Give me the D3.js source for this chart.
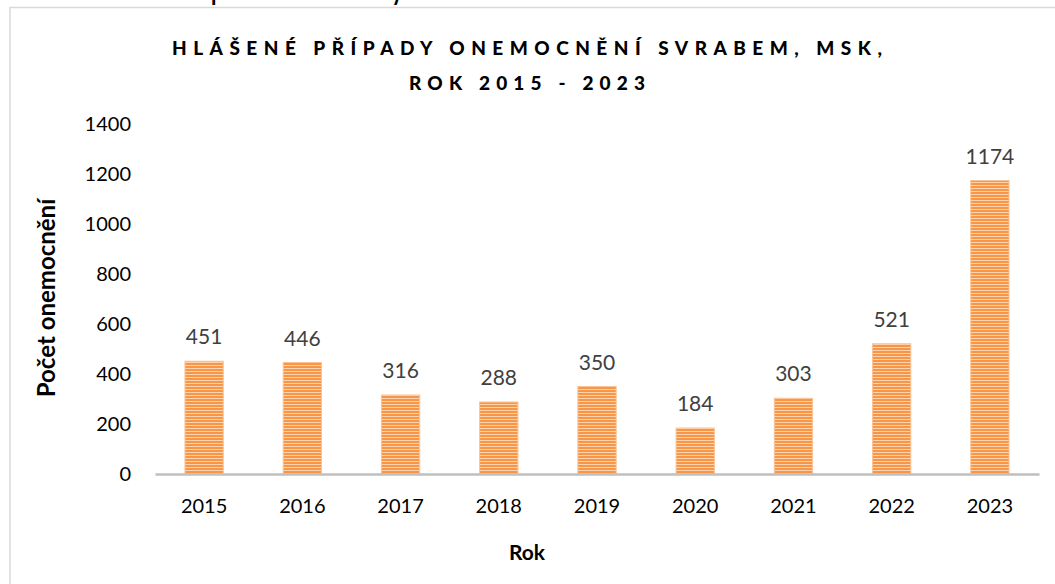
<!DOCTYPE html>
<html>
<head>
<meta charset="utf-8">
<script src="https://cdn.jsdelivr.net/npm/d3@7"></script>
<style>
  body { margin: 0; background: #fff; }
  svg { display: block; font-family: Lato, "Open Sans", sans-serif; }
</style>
</head>
<body>
<div id="chart"></div>
<script>
// Data
const years = ["2015", "2016", "2017", "2018", "2019", "2020", "2021", "2022", "2023"];
const cases = [451, 446, 316, 288, 350, 184, 303, 521, 1174];
const yTicks = [0, 200, 400, 600, 800, 1000, 1200, 1400];
const titleLines = ["HLÁŠENÉ PŘÍPADY ONEMOCNĚNÍ SVRABEM, MSK,", "ROK 2015 - 2023"];

const width = 1055, height = 584;
const margin = {top: 124, right: 16, bottom: 110, left: 155};

const svg = d3.select("#chart")
    .append("svg")
    .attr("width", width)
    .attr("height", height);

// Striped bar fill
const defs = svg.append("defs");
const pat = defs.append("pattern")
    .attr("id", "stripes")
    .attr("patternUnits", "userSpaceOnUse")
    .attr("width", 6).attr("height", 3);
pat.append("rect").attr("width", 6).attr("height", 3).attr("fill", "#fcd3ae");
pat.append("rect").attr("width", 6).attr("height", 2).attr("fill", "#f79646");

// Clipped line of text from the page above the chart (only descenders show)
svg.append("text")
    .attr("x", 211).attr("y", -0.5)
    .attr("textLength", 192).attr("lengthAdjust", "spacingAndGlyphs")
    .style("font-size", "28px").style("font-weight", "bold").attr("fill", "#000")
    .text("podle okresu a roky");

// Chart frame
svg.append("rect")
    .attr("x", 10).attr("y", 7.5)
    .attr("width", 1060).attr("height", 600)
    .attr("fill", "#fff")
    .attr("stroke", "#d9d9d9").attr("stroke-width", 1.5);

// Scales
const x = d3.scaleBand().domain(years).range([margin.left, width - margin.right]).paddingInner(0.61).paddingOuter(0.305);
const y = d3.scaleLinear().domain([0, 1400]).range([height - margin.bottom, margin.top]);

// Title
const titleWidths = [710, 236];
titleLines.forEach((t, i) => {
    svg.append("text")
        .attr("x", 527).attr("y", 55 + i * 34.5)
        .attr("text-anchor", "middle")
        .attr("textLength", titleWidths[i])
        .attr("lengthAdjust", "spacing")
        .style("font-size", "19px").style("font-weight", "900")
        .attr("fill", "#000")
        .text(t);
});

// Y axis (labels only)
const yAxis = svg.append("g")
    .attr("transform", `translate(${margin.left - 24},0)`)
    .call(d3.axisLeft(y).tickValues(yTicks).tickFormat(d3.format("d")).tickSize(0).tickPadding(0));
yAxis.select(".domain").remove();
yAxis.selectAll("text").style("font-size", "20px").attr("fill", "#000").attr("font-family", "Lato, sans-serif");

// Bars
svg.append("g").selectAll("rect")
    .data(cases)
    .enter()
    .append("rect")
    .attr("x", (d, i) => x(years[i]))
    .attr("y", d => y(d))
    .attr("width", x.bandwidth())
    .attr("height", d => y(0) - y(d))
    .attr("fill", "url(#stripes)")
    .attr("stroke", "#fbc396").attr("stroke-width", 1);

// Value labels
svg.append("g").selectAll("text")
    .data(cases)
    .enter()
    .append("text")
    .attr("x", (d, i) => x(years[i]) + x.bandwidth() / 2)
    .attr("y", d => y(d) - 17)
    .attr("text-anchor", "middle")
    .style("font-size", "21px").attr("fill", "#404040")
    .text(d => d);

// X axis
const xAxis = svg.append("g")
    .attr("transform", `translate(0,${y(0)})`)
    .call(d3.axisBottom(x).tickSize(0).tickPadding(25));
xAxis.select(".domain").attr("stroke", "#bfbfbf").attr("stroke-width", 2.5);
xAxis.selectAll("text").style("font-size", "20px").attr("fill", "#000").attr("font-family", "Lato, sans-serif");

// Axis titles
svg.append("text")
    .attr("x", 527).attr("y", 560)
    .attr("text-anchor", "middle")
    .style("font-size", "21px").style("font-weight", "bold")
    .text("Rok");
svg.append("text")
    .attr("transform", "rotate(-90)")
    .attr("x", -298).attr("y", 55)
    .attr("text-anchor", "middle")
    .style("font-size", "24px").style("font-weight", "bold")
    .text("Počet onemocnění");
</script>
</body>
</html>
